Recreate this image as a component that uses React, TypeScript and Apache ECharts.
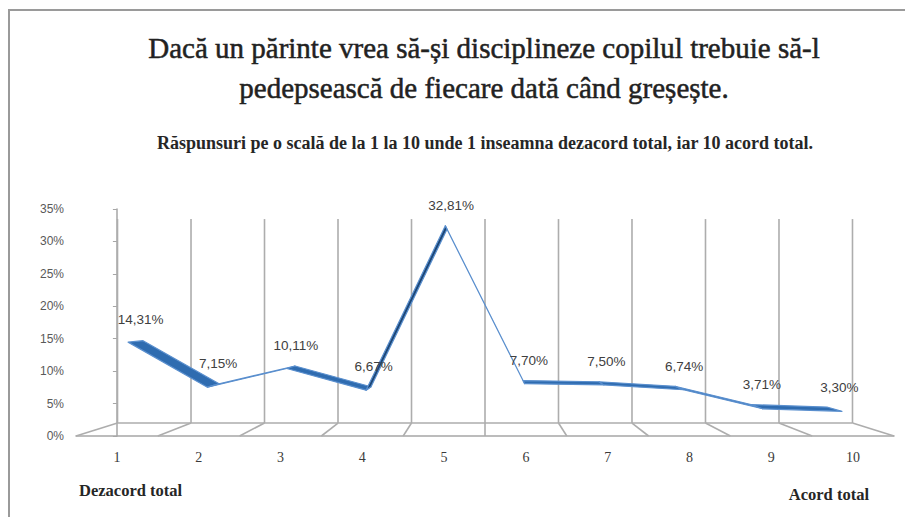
import React, { useEffect, useRef } from "react";
import * as echarts from "echarts";

const categories = ["1", "2", "3", "4", "5", "6", "7", "8", "9", "10"];
const values = [14.31, 7.15, 10.11, 6.67, 32.81, 7.7, 7.5, 6.74, 3.71, 3.3];
const yMin = 0;
const yMax = 35;
const yInterval = 5;
const titleLines = [
  "Dacă un părinte vrea să-și disciplineze copilul trebuie să-l",
  "pedepsească de fiecare dată când greșește.",
];
const subtitle =
  "Răspunsuri pe o scală de la 1 la 10 unde 1 inseamna dezacord total, iar 10 acord total.";
const leftNote = "Dezacord total";
const rightNote = "Acord total";

// perspective of the 3D box (depth 0 = front, 1 = back)
const VP_C = 4.5; // vanishing centre, category units
const VP_V = 19.7; // vanishing centre, value units
const BACK_SCALE = 0.8985;
const RIB_D1 = 0.3;
const RIB_D2 = 0.7;

const fmt = (v: number) => v.toFixed(2).replace(".", ",") + "%";

export default function App() {
  const ref = useRef<HTMLDivElement>(null);
  useEffect(() => {
    if (!ref.current) return;
    const chart = echarts.init(ref.current, null, { renderer: "svg" });
    const n = values.length;
    const makeProj = (api: any) => {
      const vp = api.coord([VP_C, VP_V]);
      return (c: number, v: number, d: number) => {
        const f = api.coord([c, v]);
        const k = (1 - BACK_SCALE) * d;
        return [f[0] + (vp[0] - f[0]) * k, f[1] + (vp[1] - f[1]) * k];
      };
    };
    const ribbonData = values.map((v, i) => [i, v, i < n - 1 ? values[i + 1] : v]);
    const wallData = categories.concat([""]).map((_, i) => [i - 0.5]);
    const gridColor = "#adadad";
    const titleStyle = {
      align: "center",
      verticalAlign: "middle",
      font: "29px 'Liberation Serif', serif",
      fill: "#222222",
      stroke: "#222222",
      lineWidth: 0.5,
    };
    const noteStyle = {
      verticalAlign: "middle",
      font: "bold 16.5px 'Liberation Serif', serif",
      fill: "#262626",
    };

    chart.setOption({
      animation: false,
      backgroundColor: "#ffffff",
      grid: { left: 76, right: 11, top: 209, bottom: 81, containLabel: false },
      xAxis: [
        {
          type: "category",
          data: categories,
          boundaryGap: true,
          axisLine: { show: true, lineStyle: { color: "#a6a6a6", width: 1.5 } },
          axisTick: { show: false },
          splitLine: { show: false },
          axisLabel: {
            margin: 14,
            color: "#3a3a3a",
            fontSize: 14,
            fontFamily: "Liberation Serif",
          },
        },
        { type: "value", min: -0.5, max: 9.5, show: false },
      ],
      yAxis: {
        type: "value",
        min: yMin,
        max: yMax,
        interval: yInterval,
        axisLine: { show: true, lineStyle: { color: "#a6a6a6", width: 1.5 } },
        axisTick: { show: true, length: 4, lineStyle: { color: "#a6a6a6" } },
        splitLine: { show: false },
        axisLabel: {
          formatter: "{value}%",
          margin: 12,
          color: "#595959",
          fontSize: 12,
          fontFamily: "Liberation Sans",
        },
      },
      graphic: [
        {
          type: "rect",
          shape: { x: 9, y: 10, width: 1000, height: 700 },
          style: { fill: "none", stroke: "#9a9a9a", lineWidth: 2 },
          silent: true,
        },
        { type: "text", x: 484, y: 48, style: { ...titleStyle, text: titleLines[0] } },
        { type: "text", x: 484, y: 88, style: { ...titleStyle, text: titleLines[1] } },
        {
          type: "text",
          x: 485,
          y: 143,
          style: {
            text: subtitle,
            align: "center",
            verticalAlign: "middle",
            font: "bold 18px 'Liberation Serif', serif",
            fill: "#262626",
          },
        },
        { type: "text", x: 79, y: 490, style: { ...noteStyle, align: "left", text: leftNote } },
        { type: "text", x: 869, y: 494, style: { ...noteStyle, align: "right", text: rightNote } },
      ],
      series: [
        {
          type: "custom",
          xAxisIndex: 1,
          yAxisIndex: 0,
          silent: true,
          data: wallData,
          z: 1,
          renderItem: (params: any, api: any) => {
            const proj = makeProj(api);
            const b = api.value(0);
            const children: any[] = [];
            const ls = { stroke: gridColor, lineWidth: 1.6 };
            const pb0 = proj(b, yMin, 1);
            const pbt = proj(b, yMax, 1);
            const pf0 = proj(b, yMin, 0);
            children.push({ type: "line", shape: { x1: pb0[0], y1: pb0[1], x2: pbt[0], y2: pbt[1] }, style: ls });
            children.push({ type: "line", shape: { x1: pf0[0], y1: pf0[1], x2: pb0[0], y2: pb0[1] }, style: ls });
            if (params.dataIndex === 0) {
              const a = proj(-0.5, yMin, 1);
              const e = proj(n - 0.5, yMin, 1);
              children.push({ type: "line", shape: { x1: a[0], y1: a[1], x2: e[0], y2: e[1] }, style: ls });
            }
            return { type: "group", children };
          },
        },
        {
          type: "custom",
          xAxisIndex: 1,
          yAxisIndex: 0,
          silent: true,
          data: ribbonData,
          z: 3,
          renderItem: (params: any, api: any) => {
            const proj = makeProj(api);
            const i = api.value(0);
            const v0 = api.value(1);
            const v1 = api.value(2);
            const children: any[] = [];
            if (i < n - 1) {
              const a = proj(i, v0, RIB_D1);
              const b = proj(i + 1, v1, RIB_D1);
              const c = proj(i + 1, v1, RIB_D2);
              const d = proj(i, v0, RIB_D2);
              const dx = b[0] - a[0];
              const dy = b[1] - a[1];
              const ox = d[0] - a[0];
              const oy = d[1] - a[1];
              const cross = ox * dy - oy * dx;
              const fill = cross > 0 ? "#2f6cb0" : "#1c4676";
              children.push({
                type: "polygon",
                shape: { points: [a, b, c, d] },
                style: { fill, stroke: "#5a8fce", lineWidth: 1.2, lineJoin: "round" },
              });
            }
            const p = proj(i, v0, 0.5);
            children.push({
              type: "text",
              x: p[0] + 5,
              y: p[1] - 22,
              z2: 10,
              style: {
                text: fmt(v0),
                align: "center",
                verticalAlign: "middle",
                fontSize: 13.5,
                fontFamily: "Liberation Sans",
                fill: "#404040",
              },
            });
            return { type: "group", children };
          },
        },
      ],
    });
    return () => chart.dispose();
  }, []);
  return (
    <div
      ref={ref}
      style={{ position: "fixed", left: 0, top: 0, width: 905, height: 517, background: "#fff" }}
    />
  );
}
